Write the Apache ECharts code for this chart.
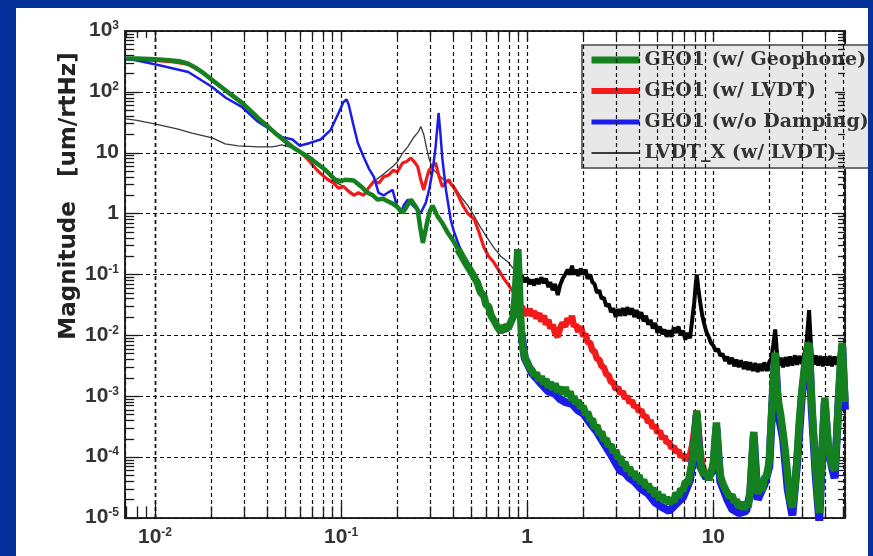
<!DOCTYPE html>
<html>
<head>
<meta charset="utf-8">
<script src="https://cdn.jsdelivr.net/npm/echarts@6/dist/echarts.min.js"></script>
<style>
  html, body { margin: 0; padding: 0; background: #03339a; }
  #main { width: 873px; height: 556px; }
</style>
</head>
<body>
<div id="main"></div>
<script>
// axis furniture
const xMin = 0.0069, xMax = 51;
const yMin = 1e-5, yMax = 1000;
const xDecades = [0.001, 0.01, 0.1, 1, 10];
const yDecades = [1e-5, 1e-4, 1e-3, 1e-2, 1e-1, 1, 10, 100];
const minorSteps = [2, 3, 4, 5, 6, 7, 8, 9];

// LVDT_X (w/ LVDT), thin part below 1 Hz  [Hz, um/rtHz]
const lvdtLow = [
  [0.007, 36], [0.008, 34], [0.0104, 29], [0.0133, 24.5], [0.0158, 21], [0.0203, 17.5], [0.0238, 14],
  [0.028, 13], [0.036, 12.5], [0.0428, 12.5], [0.048, 13.5], [0.055, 12], [0.067, 8.3], [0.082, 5],
  [0.093, 3.3], [0.103, 2.8], [0.117, 2.1], [0.132, 2.1], [0.15, 3.4], [0.17, 4.5], [0.19, 6], [0.2, 7],
  [0.215, 10], [0.228, 12.5], [0.246, 18], [0.26, 22], [0.268, 27], [0.278, 20], [0.288, 12], [0.297, 8],
  [0.31, 5.5], [0.33, 4.5], [0.36, 3.5], [0.4, 3], [0.44, 1.9], [0.48, 1.35], [0.52, 0.9], [0.56, 0.6],
  [0.61, 0.4], [0.66, 0.28], [0.72, 0.2], [0.79, 0.16], [0.85, 0.12], [0.93, 0.1]
];
// LVDT_X (w/ LVDT), noisy part above 1 Hz
const lvdtHigh = [
  [0.93, 0.1], [0.97, 0.075], [1.0, 0.088], [1.03, 0.07], [1.06, 0.082], [1.09, 0.066], [1.12, 0.085],
  [1.16, 0.07], [1.19, 0.09], [1.23, 0.072], [1.26, 0.086], [1.3, 0.062], [1.33, 0.075], [1.37, 0.055],
  [1.41, 0.07], [1.46, 0.046], [1.5, 0.066], [1.55, 0.085], [1.6, 0.1], [1.65, 0.12], [1.7, 0.1],
  [1.74, 0.14], [1.78, 0.1], [1.83, 0.12], [1.88, 0.095], [1.94, 0.125], [2.0, 0.1], [2.06, 0.12],
  [2.11, 0.085], [2.18, 0.1], [2.24, 0.075], [2.3, 0.07], [2.37, 0.05], [2.44, 0.055], [2.51, 0.04],
  [2.58, 0.042], [2.66, 0.03], [2.74, 0.033], [2.82, 0.024], [2.9, 0.028], [2.99, 0.02], [3.08, 0.027],
  [3.16, 0.021], [3.26, 0.028], [3.35, 0.021], [3.45, 0.029], [3.55, 0.022], [3.66, 0.028], [3.76, 0.02],
  [3.87, 0.026], [3.98, 0.019], [4.1, 0.024], [4.22, 0.017], [4.35, 0.021], [4.47, 0.015], [4.6, 0.018],
  [4.73, 0.013], [4.87, 0.016], [5.01, 0.011], [5.16, 0.014], [5.31, 0.0105], [5.47, 0.0125], [5.62, 0.0095],
  [5.79, 0.012], [5.96, 0.0095], [6.13, 0.0135], [6.31, 0.011], [6.5, 0.014], [6.68, 0.01], [6.88, 0.012],
  [7.08, 0.0085], [7.3, 0.011], [7.5, 0.009], [7.7, 0.018], [7.9, 0.035], [8.05, 0.07], [8.15, 0.1],
  [8.3, 0.06], [8.5, 0.035], [8.7, 0.022], [8.91, 0.016], [9.17, 0.0115], [9.44, 0.0095], [9.72, 0.0075],
  [10, 0.0068], [10.3, 0.0055], [10.6, 0.006], [10.9, 0.0046], [11.2, 0.005], [11.6, 0.0038], [11.9, 0.0045],
  [12.2, 0.0034], [12.6, 0.0043], [13, 0.0031], [13.3, 0.004], [13.7, 0.003], [14.1, 0.0039], [14.6, 0.0028],
  [15, 0.0037], [15.4, 0.0027], [15.8, 0.0036], [16.3, 0.0026], [16.8, 0.0035], [17.3, 0.0025], [17.8, 0.0034],
  [18.3, 0.0026], [18.8, 0.0036], [19.4, 0.0026], [20, 0.0037], [20.5, 0.0042], [21, 0.007], [21.5, 0.0125],
  [21.9, 0.006], [22.4, 0.0032], [23, 0.0043], [23.7, 0.003], [24.4, 0.0044], [25.1, 0.0031], [25.8, 0.0045],
  [26.6, 0.0032], [27.4, 0.0047], [28.2, 0.0033], [29, 0.0046], [29.9, 0.0034], [30.8, 0.0048], [31.6, 0.007],
  [32.2, 0.014], [32.7, 0.026], [33.2, 0.011], [33.8, 0.0045], [34.5, 0.0033], [35.5, 0.0047], [36.5, 0.0032],
  [37.6, 0.0046], [38.7, 0.0031], [39.8, 0.0045], [41, 0.0032], [42.2, 0.0046], [43.4, 0.0031], [44.7, 0.0045],
  [46, 0.0033], [47.3, 0.0046], [48.7, 0.0034], [50, 0.0045], [51, 0.0038]
];
// GEO1 (w/ LVDT)
const geoLvdt = [
  [0.007, 345], [0.01, 330], [0.012, 315], [0.015, 285], [0.018, 210], [0.02, 160], [0.024, 105], [0.029, 66],
  [0.035, 38], [0.04, 29], [0.044, 21], [0.05, 15.5], [0.055, 12.4], [0.06, 10.5], [0.067, 7.5], [0.073, 5.5],
  [0.078, 4.5], [0.085, 3.6], [0.091, 3.2], [0.097, 2.6], [0.103, 2.8], [0.11, 2.3], [0.117, 2.0], [0.124, 2.2],
  [0.132, 2.0], [0.14, 2.6], [0.15, 3.4], [0.16, 3.2], [0.169, 4.0], [0.18, 4.3], [0.191, 5.2], [0.2, 4.8],
  [0.214, 6.8], [0.225, 7.2], [0.237, 8.2], [0.248, 7.0], [0.258, 5.9], [0.268, 3.6], [0.278, 2.45], [0.288, 3.8],
  [0.297, 5.2], [0.31, 6.0], [0.322, 6.8], [0.335, 4.2], [0.35, 2.75], [0.365, 3.3], [0.38, 3.6], [0.39, 3.0],
  [0.402, 2.75], [0.425, 2.0], [0.455, 1.3], [0.48, 1.0], [0.52, 0.8], [0.55, 0.5], [0.585, 0.28], [0.62, 0.2],
  [0.66, 0.16], [0.7, 0.12], [0.75, 0.085], [0.8, 0.065], [0.84, 0.052], [0.88, 0.045], [0.91, 0.035], [0.93, 0.03],
  [0.97, 0.024], [1.0, 0.022], [1.03, 0.027], [1.06, 0.021], [1.09, 0.025], [1.12, 0.019], [1.16, 0.023],
  [1.19, 0.017], [1.23, 0.021], [1.26, 0.015], [1.3, 0.018], [1.33, 0.013], [1.37, 0.015], [1.41, 0.011],
  [1.46, 0.0095], [1.5, 0.013], [1.55, 0.016], [1.6, 0.014], [1.65, 0.019], [1.7, 0.016], [1.74, 0.021],
  [1.78, 0.014], [1.83, 0.015], [1.88, 0.0115], [1.94, 0.014], [2.0, 0.0098], [2.06, 0.0105], [2.11, 0.0078],
  [2.18, 0.0075], [2.24, 0.0056], [2.3, 0.0055], [2.37, 0.0041], [2.44, 0.004], [2.51, 0.0031], [2.58, 0.003],
  [2.66, 0.0023], [2.74, 0.0022], [2.82, 0.0017], [2.9, 0.0017], [2.99, 0.0013], [3.08, 0.0014], [3.16, 0.0011],
  [3.26, 0.0012], [3.35, 0.00092], [3.45, 0.001], [3.55, 0.00078], [3.66, 0.00085], [3.76, 0.00066],
  [3.87, 0.00072], [3.98, 0.00056], [4.1, 0.0006], [4.22, 0.00046], [4.35, 0.00048], [4.47, 0.00037],
  [4.6, 0.0004], [4.73, 0.0003], [4.87, 0.00033], [5.01, 0.00025], [5.16, 0.00027], [5.31, 0.0002],
  [5.47, 0.00022], [5.62, 0.00017], [5.79, 0.00018], [5.96, 0.00014], [6.13, 0.00015], [6.31, 0.00012],
  [6.5, 0.00013], [6.68, 0.0001], [6.88, 0.00011], [7.08, 9e-5], [7.3, 0.0001], [7.5, 0.00011], [7.7, 0.00016],
  [7.9, 0.00028], [8.05, 0.00045], [8.15, 0.00058], [8.3, 0.0003], [8.5, 0.00014], [8.7, 8e-5], [8.91, 6e-5]
];
// GEO1 (w/o Damping)
const geoUndamped = [
  [0.007, 345], [0.0078, 335], [0.0104, 277], [0.0151, 212], [0.0203, 120], [0.024, 80], [0.0294, 56],
  [0.0359, 32], [0.0484, 18], [0.0548, 16.5], [0.06, 13], [0.068, 14.5], [0.0776, 16.5], [0.0877, 23.5],
  [0.0969, 45], [0.103, 68], [0.107, 75], [0.11, 61], [0.116, 30], [0.123, 14.5], [0.132, 8.6], [0.141, 5.5],
  [0.15, 4.0], [0.159, 2.2], [0.17, 2.0], [0.178, 2.2], [0.189, 2.45], [0.2, 1.3], [0.209, 1.03], [0.218, 1.4],
  [0.228, 1.7], [0.246, 1.3], [0.268, 1.03], [0.285, 1.5], [0.297, 2.45], [0.31, 5], [0.322, 12.5], [0.334, 45],
  [0.342, 20], [0.35, 8], [0.366, 2.45], [0.388, 0.8], [0.402, 0.53], [0.43, 0.3], [0.48, 0.13], [0.54, 0.068],
  [0.585, 0.04], [0.64, 0.02], [0.69, 0.013], [0.72, 0.011], [0.79, 0.012], [0.84, 0.018], [0.875, 0.09],
  [0.89, 0.23], [0.9, 0.1], [0.93, 0.011], [0.97, 0.0042], [1.06, 0.0024], [1.19, 0.0016], [1.3, 0.0012],
  [1.41, 0.0011], [1.5, 0.0009], [1.6, 0.0008], [1.74, 0.00075], [1.88, 0.00058], [2.0, 0.00052], [2.18, 0.00036],
  [2.37, 0.00026], [2.58, 0.00017], [2.82, 0.00011], [2.99, 8e-5], [3.16, 6e-5], [3.35, 5.5e-5], [3.55, 4.5e-5],
  [3.76, 4e-5], [4.1, 3e-5], [4.47, 2.5e-5], [4.87, 1.8e-5], [5.31, 1.5e-5], [5.79, 1.3e-5], [6.31, 1.7e-5],
  [6.88, 2.2e-5], [7.5, 4.2e-5], [7.9, 0.00015], [8.15, 0.0005], [8.5, 7e-5], [9.17, 4.5e-5], [10, 6e-5],
  [10.4, 0.0003], [10.9, 4e-5], [11.9, 2e-5], [12.6, 1.4e-5], [13.7, 1.2e-5], [15, 1.3e-5], [15.8, 2.5e-5],
  [16.5, 0.00022], [17.3, 2e-5], [18.8, 3.5e-5], [20, 7e-5], [21, 0.0015], [21.5, 0.0045], [22.4, 0.0005],
  [23.7, 0.0002], [25.1, 3e-5], [26.6, 1.1e-5], [28.2, 8e-5], [29.9, 0.001], [31.6, 0.004], [32.7, 0.0065],
  [33.8, 0.0006], [35.5, 5e-5], [37.1, 9e-6], [38.7, 0.00017], [39.7, 0.0008], [41.5, 0.00012], [44.9, 4.5e-5],
  [47.3, 0.001], [49.3, 0.0065], [51, 0.0006]
];
// GEO1 (w/ Geophone)
const geoGeophone = [
  [0.007, 355], [0.008, 352], [0.01, 345], [0.012, 330], [0.0135, 318], [0.0151, 290], [0.0165, 250],
  [0.0179, 212], [0.0203, 157], [0.0238, 107], [0.0294, 66], [0.0359, 37], [0.0443, 21], [0.0548, 12.4],
  [0.0668, 8.5], [0.0825, 5.2], [0.093, 3.6], [0.1, 3.4], [0.105, 3.6], [0.117, 3.5], [0.128, 2.8], [0.139, 2.2],
  [0.148, 2.0], [0.157, 1.7], [0.168, 1.75], [0.178, 1.6], [0.19, 1.45], [0.2, 1.3], [0.214, 1.03], [0.225, 1.3],
  [0.237, 1.7], [0.248, 1.4], [0.258, 1.15], [0.266, 0.6], [0.275, 0.33], [0.283, 0.5], [0.292, 0.8], [0.3, 1.1],
  [0.31, 1.35], [0.32, 1.1], [0.33, 0.9], [0.35, 0.7], [0.375, 0.48], [0.4, 0.36], [0.424, 0.26], [0.45, 0.19],
  [0.48, 0.135], [0.51, 0.1], [0.54, 0.073], [0.56, 0.052], [0.585, 0.044], [0.6, 0.032], [0.62, 0.03],
  [0.64, 0.021], [0.66, 0.018], [0.69, 0.014], [0.72, 0.0115], [0.75, 0.014], [0.79, 0.013], [0.82, 0.017],
  [0.84, 0.02], [0.86, 0.04], [0.875, 0.1], [0.89, 0.26], [0.9, 0.12], [0.915, 0.03], [0.93, 0.012], [0.95, 0.006],
  [0.97, 0.0044], [1.0, 0.0036], [1.03, 0.0029], [1.06, 0.0027], [1.09, 0.0022], [1.12, 0.0024], [1.16, 0.0018],
  [1.19, 0.0021], [1.23, 0.0016], [1.26, 0.0019], [1.3, 0.0014], [1.33, 0.0017], [1.37, 0.0013], [1.41, 0.0016],
  [1.46, 0.0012], [1.5, 0.0014], [1.55, 0.0011], [1.6, 0.0014], [1.65, 0.001], [1.7, 0.0012], [1.74, 0.00085],
  [1.78, 0.001], [1.83, 0.00075], [1.88, 0.00085], [1.94, 0.00065], [2.0, 0.00068], [2.06, 0.0005], [2.11, 0.00055],
  [2.18, 0.0004], [2.24, 0.00042], [2.3, 0.0003], [2.37, 0.00033], [2.44, 0.00024], [2.51, 0.00026], [2.58, 0.00019],
  [2.66, 0.0002], [2.74, 0.00015], [2.82, 0.00016], [2.9, 0.00012], [2.99, 0.00013], [3.08, 9.5e-5], [3.16, 0.0001],
  [3.26, 7.5e-5], [3.35, 8.2e-5], [3.45, 6e-5], [3.55, 6.8e-5], [3.66, 5e-5], [3.76, 5.8e-5], [3.87, 4.3e-5],
  [3.98, 5e-5], [4.1, 3.7e-5], [4.22, 4.2e-5], [4.35, 3.2e-5], [4.47, 3.6e-5], [4.6, 2.7e-5], [4.73, 3.1e-5],
  [4.87, 2.3e-5], [5.01, 2.7e-5], [5.16, 2e-5], [5.31, 2.4e-5], [5.47, 1.8e-5], [5.62, 2.2e-5], [5.79, 1.7e-5],
  [5.96, 2.1e-5], [6.13, 1.8e-5], [6.31, 2.6e-5], [6.5, 2.2e-5], [6.68, 3e-5], [6.88, 2.8e-5], [7.08, 4e-5],
  [7.3, 3.6e-5], [7.5, 5.5e-5], [7.7, 8e-5], [7.9, 0.00018], [8.05, 0.00035], [8.15, 0.00058], [8.3, 0.0002],
  [8.5, 9e-5], [8.7, 6e-5], [8.91, 5e-5], [9.17, 6e-5], [9.44, 4.2e-5], [9.72, 5.5e-5], [10, 8e-5], [10.2, 0.00018],
  [10.4, 0.00037], [10.6, 0.00012], [10.9, 5e-5], [11.2, 3.8e-5], [11.6, 3e-5], [11.9, 2.6e-5], [12.2, 2.2e-5],
  [12.6, 2.4e-5], [13, 1.8e-5], [13.3, 2e-5], [13.7, 1.5e-5], [14.1, 1.8e-5], [14.6, 1.4e-5], [15, 1.7e-5],
  [15.4, 1.5e-5], [15.8, 3e-5], [16.2, 0.00012], [16.5, 0.00026], [16.8, 8e-5], [17.3, 2.5e-5], [17.8, 3.2e-5],
  [18.3, 2.8e-5], [18.8, 4.5e-5], [19.4, 5e-5], [20, 9e-5], [20.5, 0.0004], [21, 0.0018], [21.5, 0.0052],
  [21.9, 0.0015], [22.4, 0.0008], [23, 0.0005], [23.7, 0.00025], [24.4, 0.00012], [25.1, 5e-5], [25.8, 2e-5],
  [26.6, 1.5e-5], [27.4, 3e-5], [28.2, 0.0001], [29, 0.0004], [29.9, 0.0012], [30.8, 0.0028], [31.6, 0.0045],
  [32.2, 0.0065], [32.7, 0.0075], [33.2, 0.0025], [33.8, 0.0008], [34.5, 0.00025], [35.5, 7e-5], [36.5, 2e-5],
  [37.1, 1.2e-5], [37.8, 4e-5], [38.7, 0.0002], [39.7, 0.00095], [40.5, 0.0004], [41.5, 0.00015], [43, 8e-5],
  [44.9, 6e-5], [46, 0.0002], [47.3, 0.0012], [48.3, 0.004], [49.3, 0.0075], [50.2, 0.002], [51, 0.0008]
];

const chartDom = document.getElementById('main');
const myChart = echarts.init(chartDom, null, { renderer: 'canvas' });

const gridColor = '#111';
const tickStyle = { type: 'solid', color: '#1a1a1a', width: 1.3 };
const dashStyle = { type: [4, 3], color: gridColor, width: 1.2 };

// 10^n 形式的刻度标签
function powLabel(v) {
  const lg = Math.log10(v);
  const e = Math.round(lg);
  if (Math.abs(lg - e) > 1e-6) return '';
  if (e === 0) return '{b|1}';
  if (e === 1) return '{b|10}';
  return '{b|10}{s|' + e + '}';
}
const labelRich = {
  b: { fontFamily: 'Liberation Sans', fontWeight: 'bold', fontSize: 21, color: '#333', verticalAlign: 'top', lineHeight: 22 },
  s: { fontFamily: 'Liberation Sans', fontWeight: 'bold', fontSize: 12, color: '#333', verticalAlign: 'top', lineHeight: 14 }
};

// 次网格线与次刻度 (markLine)
const marks = [];
xDecades.forEach(d => {
  minorSteps.forEach(m => {
    const f = d * m;
    if (f <= xMin || f >= xMax) return;
    marks.push({ xAxis: f, lineStyle: dashStyle });
    marks.push([{ coord: [f, yMin], lineStyle: tickStyle }, { coord: [f, yMin * 1.55] }]);
    marks.push([{ coord: [f, yMax / 1.3], lineStyle: tickStyle }, { coord: [f, yMax] }]);
  });
  if (d > xMin && d < xMax) {
    marks.push([{ coord: [d, yMax / 1.45], lineStyle: tickStyle }, { coord: [d, yMax] }]);
  }
});
yDecades.forEach(d => {
  minorSteps.forEach(m => {
    const v = d * m;
    marks.push([{ coord: [xMin, v], lineStyle: tickStyle }, { coord: [xMin * 1.12, v] }]);
    marks.push([{ coord: [xMax / 1.09, v], lineStyle: tickStyle }, { coord: [xMax, v] }]);
  });
  if (d > yMin) {
    marks.push([{ coord: [xMax / 1.13, d], lineStyle: tickStyle }, { coord: [xMax, d] }]);
  }
});

function lineSeries(name, data, color, width, z) {
  return {
    name: name,
    type: 'line',
    data: data,
    showSymbol: false,
    symbol: 'none',
    z: z,
    itemStyle: { color: color },
    lineStyle: { color: color, width: width },
    silent: true
  };
}
// 低频细线 / 高频噪声粗带 (分界点两边都保留)
const below = (arr, f) => arr.filter(p => p[0] <= f);
const above = (arr, f) => arr.filter(p => p[0] >= f);

const option = {
  backgroundColor: '#03339a',
  animation: false,
  grid: {
    left: 125, right: 28, top: 31, bottom: 38,
    show: true, backgroundColor: '#fff', borderColor: '#2a2a2a', borderWidth: 2
  },
  legend: {
    left: 582, top: 45,
    orient: 'vertical',
    padding: [5, 10, 5, 6],
    itemWidth: 48, itemHeight: 20, itemGap: 11,
    backgroundColor: '#e8e8e8',
    borderColor: '#707070', borderWidth: 2,
    selectedMode: false,
    itemStyle: { color: 'transparent', borderColor: 'transparent', borderWidth: 0 },
    textStyle: { fontFamily: 'DejaVu Serif', fontWeight: 'bold', fontSize: 19, color: '#333', lineHeight: 20 },
    data: [
      { name: 'GEO1 (w/ Geophone)', lineStyle: { width: 7 } },
      { name: 'GEO1 (w/ LVDT)', lineStyle: { width: 6 } },
      { name: 'GEO1 (w/o Damping)', lineStyle: { width: 5 } },
      { name: 'LVDT_X (w/ LVDT)', lineStyle: { width: 2 } }
    ]
  },
  xAxis: {
    type: 'log', logBase: 10, min: xMin, max: xMax,
    axisLine: { show: false },
    axisTick: { show: true, inside: true, length: 15, lineStyle: { color: '#1a1a1a', width: 1.3 } },
    splitLine: { show: true, lineStyle: dashStyle },
    axisLabel: { margin: 9, formatter: powLabel, rich: labelRich }
  },
  yAxis: {
    type: 'log', logBase: 10, min: yMin, max: yMax,
    axisLine: { show: false },
    axisTick: { show: true, inside: true, length: 14, lineStyle: { color: '#1a1a1a', width: 1.3 } },
    splitLine: { show: true, lineStyle: dashStyle },
    axisLabel: { margin: 6, formatter: powLabel, rich: labelRich }
  },
  graphic: [
    { type: 'rect', z: -10, shape: { x: 16, y: 8, width: 852, height: 560 }, style: { fill: '#fff' } },
    { type: 'rect', z: 100, shape: { x: 868, y: 0, width: 6, height: 556 }, style: { fill: '#03339a' } },
    {
      type: 'text', x: 69, y: 196, rotation: Math.PI / 2,
      style: {
        text: 'Magnitude   [um/rtHz]', fill: '#222',
        fontFamily: 'DejaVu Sans', fontWeight: 'bold', fontSize: 23,
        align: 'center', verticalAlign: 'middle'
      }
    }
  ],
  series: [
    {
      name: '_grid', type: 'line', data: [], z: 1, silent: true,
      markLine: {
        silent: true, symbol: ['none', 'none'], animation: false,
        label: { show: false }, data: marks
      }
    },
    lineSeries('LVDT_X (w/ LVDT)', lvdtLow, '#3a3a3a', 1.3, 3),
    lineSeries('LVDT_X (w/ LVDT)', lvdtHigh, '#050505', 4, 3),
    lineSeries('GEO1 (w/ LVDT)', below(geoLvdt, 0.93), '#f21a1a', 3.2, 4),
    lineSeries('GEO1 (w/ LVDT)', above(geoLvdt, 0.93), '#f21a1a', 6.5, 4),
    lineSeries('GEO1 (w/o Damping)', below(geoUndamped, 0.93), '#1c1ce8', 2.5, 5),
    lineSeries('GEO1 (w/o Damping)', above(geoUndamped, 0.93), '#1c1ce8', 8, 5),
    lineSeries('GEO1 (w/ Geophone)', below(geoGeophone, 0.424), '#15801f', 4.5, 6),
    lineSeries('GEO1 (w/ Geophone)', above(geoGeophone, 0.424), '#15801f', 7.5, 6)
  ]
};

myChart.setOption(option);
</script>
</body>
</html>
